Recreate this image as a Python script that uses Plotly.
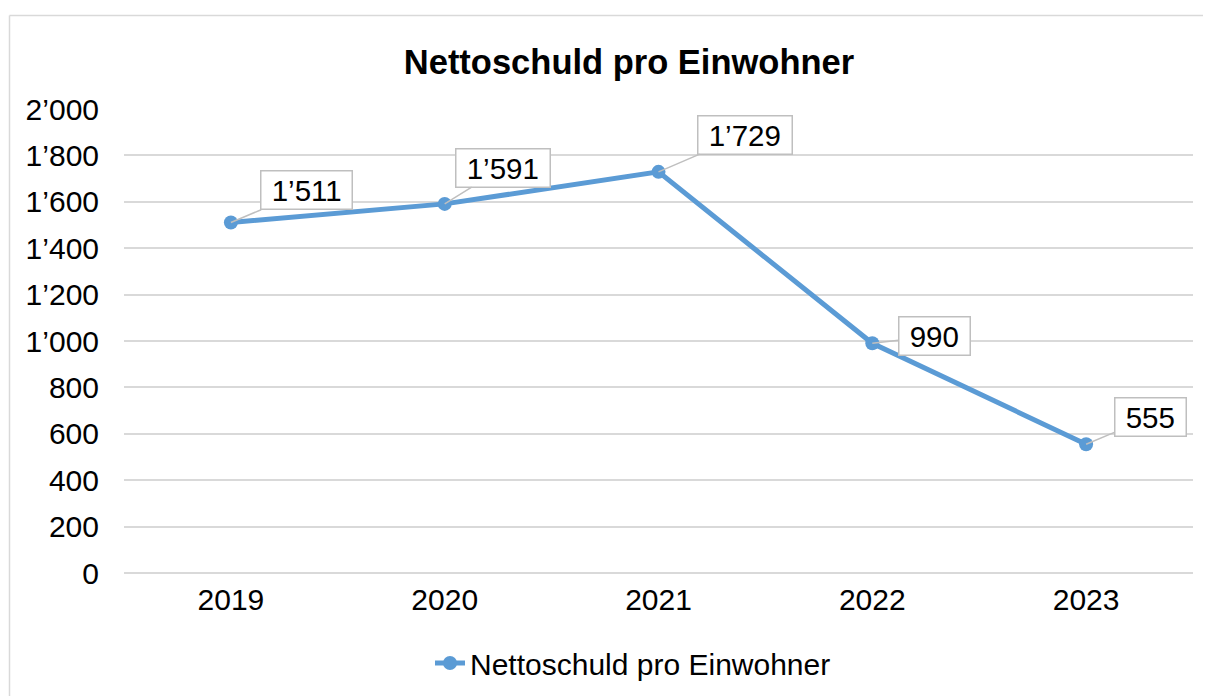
import plotly.graph_objects as go

years = [2019, 2020, 2021, 2022, 2023]
values = [1511, 1591, 1729, 990, 555]
y_ticks = [0, 200, 400, 600, 800, 1000, 1200, 1400, 1600, 1800, 2000]
series_name = "Nettoschuld pro Einwohner"
title_text = "Nettoschuld pro Einwohner"

def fmt(v):
    return f"{v:,}".replace(",", "\u2019")

# label offsets in pixels (style only)
offsets = [(76, -32), (58, -36), (86, -37), (62, -7), (64, -27)]

OFF = 8  # page body margin
W, H = 1211 - 2 * OFF, 696 - OFF
L = 124 - OFF
T = 109 - OFF
R = W - (1193 - OFF)
B = H - (573 - OFF)
pw = W - L - R
ph = H - T - B

fig = go.Figure()
fig.add_trace(go.Scatter(
    x=years, y=values, mode="lines+markers", name=series_name,
    line=dict(color="#5b9bd5", width=5),
    marker=dict(color="#5b9bd5", size=14),
))

NB = "\u00a0"
for xv, yv, (dx, dy) in zip(years, values, offsets):
    fig.add_annotation(
        x=xv, y=yv, text=NB + fmt(yv) + NB, showarrow=True, arrowhead=0, arrowwidth=1.5,
        arrowcolor="#bfbfbf", ax=dx, ay=dy, bordercolor="#bfbfbf", borderwidth=1.5,
        borderpad=2, bgcolor="white", font=dict(size=29.5, color="black", family="Liberation Sans"),
    )

def px_x(p):
    return (p - OFF - L) / pw

def px_y(p):
    return (H + OFF - B - p) / ph

# outer chart border (top and left visible)
fig.add_shape(type="line", xref="paper", yref="paper",
              x0=px_x(9.5), x1=px_x(1230), y0=px_y(15.5), y1=px_y(15.5),
              line=dict(color="#d9d9d9", width=1.5), layer="below")
fig.add_shape(type="line", xref="paper", yref="paper",
              x0=px_x(9.5), x1=px_x(9.5), y0=px_y(15.5), y1=px_y(720),
              line=dict(color="#d9d9d9", width=1.5), layer="below")

fig.update_layout(
    width=W, height=H,
    margin=dict(l=L, r=R, t=T, b=B, autoexpand=False),
    paper_bgcolor="white", plot_bgcolor="white",
    font=dict(family="Liberation Sans", color="black", size=30),
    title=dict(text="<b>" + title_text + "</b>", x=(629 - OFF) / W, xanchor="center",
               y=1 - (62 - OFF) / H, yanchor="middle", yref="container",
               font=dict(size=34.5, color="black", family="Liberation Sans")),
    showlegend=True,
    legend=dict(orientation="h", x=px_x(633), xanchor="center", y=px_y(663), yanchor="middle",
                font=dict(size=30)),
    xaxis=dict(range=[2018.5, 2023.5], tickvals=years, ticktext=[str(y) for y in years],
               showgrid=False, zeroline=False, showline=False,
               ticks="", tickfont=dict(size=30), ticklabelstandoff=6),
    yaxis=dict(range=[0, 2000], tickvals=y_ticks, ticktext=[fmt(v) for v in y_ticks],
               showgrid=True, gridcolor="#d9d9d9", gridwidth=1.5, zeroline=True,
               zerolinecolor="#d9d9d9", zerolinewidth=1.5, showline=False, ticks="",
               tickfont=dict(size=30), ticklabelstandoff=24),
)

fig.write_html("out.html")
